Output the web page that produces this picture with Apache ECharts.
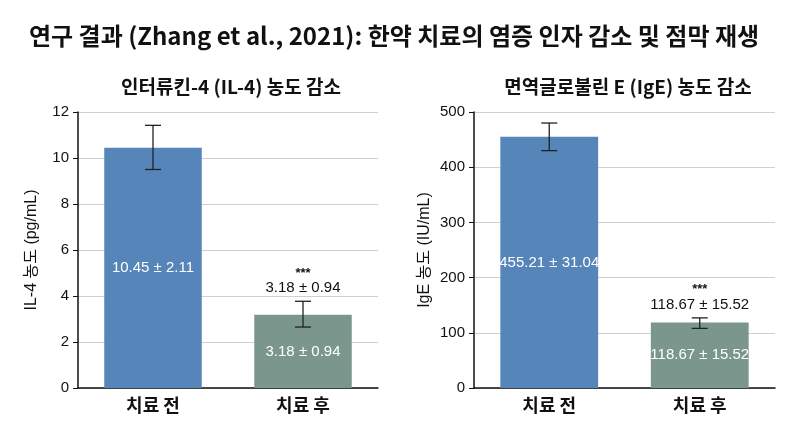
<!DOCTYPE html>
<html>
<head>
<meta charset="utf-8">
<script src="https://cdn.jsdelivr.net/npm/echarts@6/dist/echarts.min.js"></script>
<style>
  html, body { margin: 0; padding: 0; background: #fff; }
  #chart { width: 800px; height: 424px; }
</style>
</head>
<body>
<div id="chart"></div>
<script>
// 치료 전/후 카테고리
const categories = ['치료 전', '치료 후'];

// IL-4 (pg/mL)
const il4Mean = [10.45, 3.18];
const il4Sd = [2.11, 0.94];
const il4ErrLow = [9.5, 2.65];   // 그림에서 읽은 오차막대 범위
const il4ErrHigh = [11.42, 3.77];

// IgE (IU/mL)
const igeMean = [455.21, 118.67];
const igeSd = [31.04, 15.52];
const igeErrLow = [430, 108];
const igeErrHigh = [480, 127];

const sigMark = ['', '***'];
const barColors = ['#5685ba', '#7b978d'];
const font = '"Noto Sans CJK KR", "Noto Sans", sans-serif';
const numFont = '"Liberation Sans", "Noto Sans CJK KR", sans-serif';

const chart = echarts.init(document.getElementById('chart'));

function barLabel(sd) {
  return function (p) {
    return p.value.toFixed(2) + ' ± ' + sd[p.dataIndex].toFixed(2);
  };
}

// 오차막대 + 유의성 표시
function errorRender(mean, sd) {
  return function (params, api) {
    const i = params.dataIndex;
    const lo = api.coord([i, api.value(1)]);
    const hi = api.coord([i, api.value(2)]);
    const cap = 8;
    const style = { stroke: '#222', lineWidth: 1.3 };
    const children = [
      { type: 'line', shape: { x1: hi[0], y1: hi[1], x2: lo[0], y2: lo[1] }, style: style },
      { type: 'line', shape: { x1: hi[0] - cap, y1: hi[1], x2: hi[0] + cap, y2: hi[1] }, style: style },
      { type: 'line', shape: { x1: lo[0] - cap, y1: lo[1], x2: lo[0] + cap, y2: lo[1] }, style: style }
    ];
    if (sigMark[i]) {
      children.push({
        type: 'text',
        style: {
          text: mean[i].toFixed(2) + ' ± ' + sd[i].toFixed(2),
          x: hi[0], y: hi[1] - 13, align: 'center', verticalAlign: 'middle',
          fill: '#111', font: '15px ' + numFont
        }
      });
      children.push({
        type: 'text',
        style: {
          text: sigMark[i],
          x: hi[0], y: hi[1] - 28, align: 'center', verticalAlign: 'middle',
          fill: '#111', font: 'bold 13px ' + numFont
        }
      });
    }
    return { type: 'group', children: children };
  };
}

const xAxisBase = {
  type: 'category',
  data: categories,
  axisLine: { lineStyle: { color: '#111', width: 1.5 } },
  axisTick: { alignWithLabel: true, length: 5, lineStyle: { color: '#111' } },
  axisLabel: { color: '#111', fontSize: 18, fontWeight: 'bold', fontFamily: font, margin: 8 }
};

const yAxisBase = {
  type: 'value',
  nameLocation: 'middle',
  nameRotate: 90,
  nameTextStyle: { color: '#111', fontSize: 16, fontFamily: numFont },
  axisLine: { show: true, lineStyle: { color: '#111', width: 1.5 } },
  axisTick: { show: true, length: 5, lineStyle: { color: '#111' } },
  axisLabel: { color: '#111', fontSize: 15, fontFamily: numFont, margin: 9 },
  splitLine: { lineStyle: { color: '#d0d0d0' } }
};

const option = {
  backgroundColor: '#fff',
  animation: false,
  title: [
    {
      text: '연구 결과 (Zhang et al., 2021): 한약 치료의 염증 인자 감소 및 점막 재생',
      left: 24, top: 19,
      textStyle: { color: '#111', fontSize: 24, fontWeight: 'bold', fontFamily: font }
    },
    {
      text: '인터류킨-4 (IL-4) 농도 감소',
      left: 226, top: 72, textAlign: 'center',
      textStyle: { color: '#111', fontSize: 19, fontWeight: 'bold', fontFamily: font }
    },
    {
      text: '면역글로불린 E (IgE) 농도 감소',
      left: 623, top: 72, textAlign: 'center',
      textStyle: { color: '#111', fontSize: 19, fontWeight: 'bold', fontFamily: font }
    }
  ],
  grid: [
    { left: 78, right: 422, top: 112, bottom: 36 },
    { left: 474, right: 25, top: 112, bottom: 36 }
  ],
  xAxis: [
    Object.assign({ gridIndex: 0 }, xAxisBase),
    Object.assign({ gridIndex: 1 }, xAxisBase)
  ],
  yAxis: [
    Object.assign({}, yAxisBase, { gridIndex: 0, min: 0, max: 12, interval: 2, name: 'IL-4 농도 (pg/mL)', nameGap: 38 }),
    Object.assign({}, yAxisBase, { gridIndex: 1, min: 0, max: 500, interval: 100, name: 'IgE 농도 (IU/mL)', nameGap: 41 })
  ],
  series: [
    {
      type: 'bar', xAxisIndex: 0, yAxisIndex: 0, barWidth: '65%',
      data: il4Mean.map((v, i) => ({ value: v, itemStyle: { color: barColors[i] } })),
      label: { show: true, position: 'inside', color: '#fff', fontSize: 15, fontFamily: numFont, formatter: barLabel(il4Sd) }
    },
    {
      type: 'custom', xAxisIndex: 0, yAxisIndex: 0, z: 10,
      renderItem: errorRender(il4Mean, il4Sd),
      encode: { x: 0, y: [1, 2] },
      data: categories.map((c, i) => [i, il4ErrLow[i], il4ErrHigh[i]])
    },
    {
      type: 'bar', xAxisIndex: 1, yAxisIndex: 1, barWidth: '65%',
      data: igeMean.map((v, i) => ({ value: v, itemStyle: { color: barColors[i] } })),
      label: { show: true, position: 'inside', color: '#fff', fontSize: 15, fontFamily: numFont, formatter: barLabel(igeSd) }
    },
    {
      type: 'custom', xAxisIndex: 1, yAxisIndex: 1, z: 10,
      renderItem: errorRender(igeMean, igeSd),
      encode: { x: 0, y: [1, 2] },
      data: categories.map((c, i) => [i, igeErrLow[i], igeErrHigh[i]])
    }
  ]
};

chart.setOption(option);
</script>
</body>
</html>
